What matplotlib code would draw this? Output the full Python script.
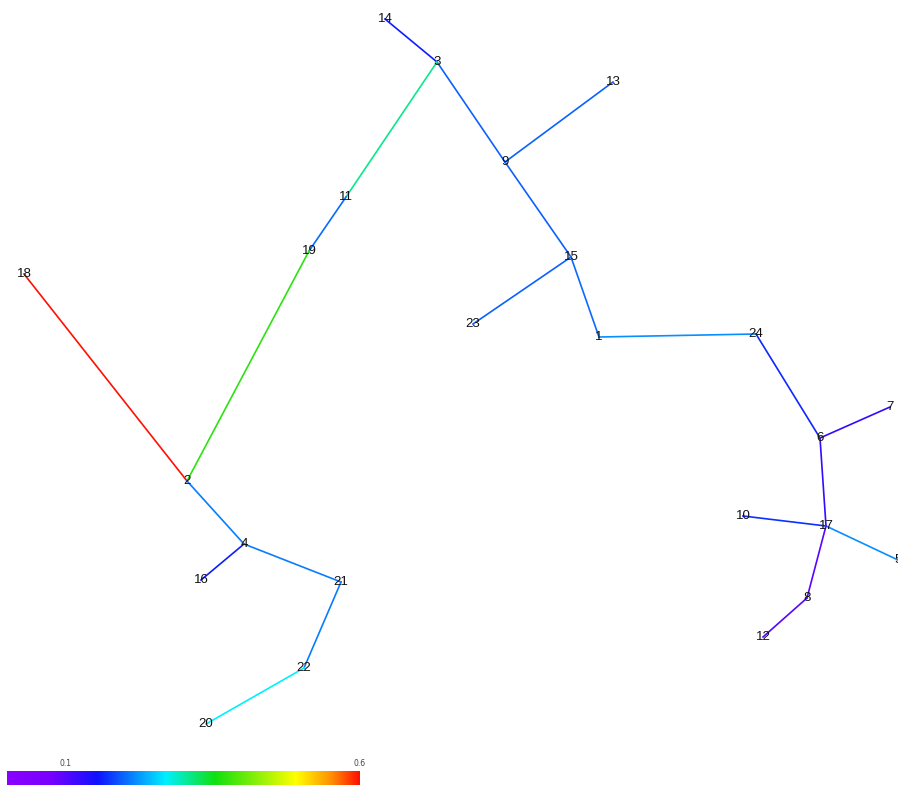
import matplotlib.pyplot as plt
import numpy as np
from matplotlib.colors import LinearSegmentedColormap, Normalize

# node positions (picture coordinates, y grows downwards)
nodes = {
    1: (599, 337), 2: (187, 481), 3: (437, 62), 4: (244, 544),
    5: (898, 560), 6: (820, 438), 7: (890, 407), 8: (807, 598),
    9: (505, 162), 10: (743, 516), 11: (346, 197), 12: (763, 637),
    13: (613, 82), 14: (385, 19), 15: (571, 257), 16: (201, 580),
    17: (826, 526), 18: (24, 274), 19: (309, 251), 20: (206, 724),
    21: (341, 582), 22: (304, 668), 23: (473, 324), 24: (756, 334),
}

# tree edges and their values
edges = [(14, 3), (3, 9), (9, 13), (3, 11), (11, 19), (19, 2), (18, 2),
         (9, 15), (15, 23), (15, 1), (1, 24), (24, 6), (6, 7), (6, 17),
         (10, 17), (17, 5), (17, 8), (8, 12), (2, 4), (4, 16), (4, 21),
         (21, 22), (22, 20)]
edge_vals = [0.16, 0.195, 0.195, 0.31, 0.2, 0.37, 0.6,
             0.195, 0.195, 0.2, 0.22, 0.165, 0.13, 0.125,
             0.17, 0.22, 0.1, 0.1, 0.21, 0.16, 0.21,
             0.21, 0.27]

vmin, vmax = 0.0, 0.6
cbar_ticks = [0.1, 0.6]

cmap = LinearSegmentedColormap.from_list("spec", [
    (0.0, "#8a00ff"), (0.12, "#7a00ff"), (0.255, "#1010ff"),
    (0.45, "#00f0ff"), (0.59, "#10e010"), (0.82, "#ffff00"),
    (0.92, "#ff9000"), (1.0, "#ff1000")])
norm = Normalize(vmin, vmax)

fig = plt.figure(figsize=(8.98, 7.88), dpi=100)
ax = fig.add_axes([0, 0, 1, 1])
ax.set_xlim(0, 898)
ax.set_ylim(788, 0)
ax.axis("off")

for (a, b), v in zip(edges, edge_vals):
    xa, ya = nodes[a]
    xb, yb = nodes[b]
    ax.plot([xa, xb], [ya, yb], color=cmap(norm(v)), lw=1.2, zorder=1)

for k, (x, y) in nodes.items():
    ax.text(x, y, str(k), ha="center", va="center", fontsize=9.5,
            family="Liberation Sans", color="#111111", zorder=2)

# colour bar
cax = fig.add_axes([7 / 898, 3 / 788, 353 / 898, 14 / 788])
grad = np.linspace(vmin, vmax, 256).reshape(1, -1)
cax.imshow(grad, aspect="auto", cmap=cmap, norm=norm,
           extent=[vmin, vmax, 0, 1])
cax.set_xlim(vmin, vmax)
cax.set_yticks([])
cax.set_xticks(cbar_ticks)
cax.set_xticklabels([f"{t:g}" for t in cbar_ticks])
cax.xaxis.tick_top()
cax.tick_params(axis="x", length=0, labelsize=5.5, pad=2, colors="#444444")
for s in cax.spines.values():
    s.set_visible(False)

fig.savefig("out.png", dpi=100)
